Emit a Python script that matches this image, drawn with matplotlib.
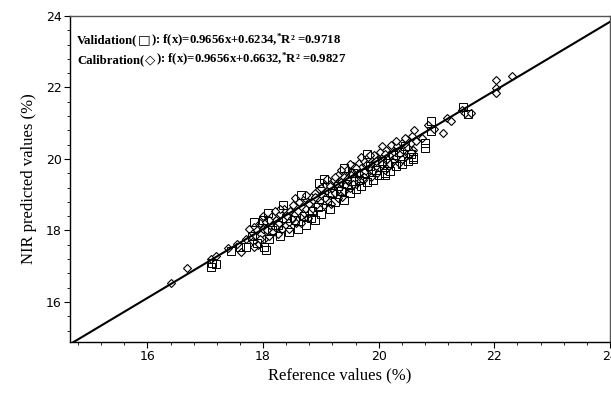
import matplotlib
matplotlib.use("Agg")
import matplotlib.pyplot as plt
from matplotlib.ticker import MultipleLocator

# Calibration samples (diamonds): reference, predicted
cal_x = [16.40, 16.69, 17.10, 17.18, 17.40, 17.55, 17.62, 17.70,
         17.80, 17.82, 17.85, 17.88, 17.90, 17.92, 17.95, 17.97, 18.00, 18.02, 18.05, 18.07,
         18.10, 18.12, 18.15, 18.17, 18.20, 18.22, 18.25, 18.27, 18.30, 18.32, 18.35, 18.37,
         18.40, 18.42, 18.45, 18.47, 18.50, 18.52, 18.55, 18.57, 18.60, 18.62, 18.65, 18.67,
         18.70, 18.72, 18.75, 18.77, 18.80, 18.82, 18.85, 18.87, 18.90, 18.92, 18.95, 18.97,
         19.00, 19.02, 19.05, 19.07, 19.10, 19.12, 19.15, 19.17, 19.20, 19.22, 19.25, 19.27,
         19.30, 19.32, 19.35, 19.37, 19.40, 19.42, 19.45, 19.47, 19.50, 19.52, 19.55, 19.57,
         19.60, 19.62, 19.65, 19.67, 19.70, 19.72, 19.75, 19.77, 19.80, 19.82, 19.85, 19.87,
         19.90, 19.92, 19.95, 19.97, 20.00, 20.02, 20.05, 20.07, 20.10, 20.12, 20.15, 20.17,
         20.20, 20.22, 20.25, 20.27, 20.30, 20.32, 20.35, 20.37, 20.40, 20.42, 20.45, 20.47,
         20.50, 20.52, 20.55, 20.57, 20.60, 20.61, 20.65,
         20.75, 20.85, 20.95, 21.11, 21.18, 21.25, 21.44, 21.50, 21.60, 22.02, 22.02, 22.02, 22.31,
         18.10, 18.30, 18.55, 18.65, 18.80, 18.90, 19.00, 19.05, 19.15, 19.25, 19.30, 19.40,
         19.45, 19.55, 19.60, 19.65, 19.75, 19.85, 19.95, 20.05, 20.20, 20.30, 20.45, 20.55,
         18.00, 17.95, 18.20, 18.45, 18.75, 19.10, 19.35, 19.50, 19.70, 19.90, 20.10, 20.40,
         17.75, 17.85]
cal_y = [16.52, 16.94, 17.20, 17.28, 17.50, 17.62, 17.40, 17.75,
         17.95, 17.70, 18.10, 17.85, 18.00, 17.60, 18.20, 17.90, 18.05, 17.75, 18.25, 18.00,
         17.85, 18.15, 18.40, 17.95, 18.10, 18.30, 17.90, 18.20, 18.45, 18.05, 18.30, 18.60,
         18.15, 18.40, 18.25, 18.55, 18.35, 18.70, 18.45, 18.20, 18.55, 18.80, 18.40, 18.65,
         18.50, 18.90, 18.60, 18.35, 18.75, 18.95, 18.60, 18.85, 19.05, 18.70, 18.90, 19.15,
         18.80, 19.00, 19.25, 18.90, 19.10, 19.35, 19.00, 18.75, 19.20, 19.40, 19.05, 19.30,
         19.55, 19.15, 19.35, 18.95, 19.50, 19.25, 19.70, 19.40, 19.20, 19.55, 19.80, 19.45,
         19.30, 19.65, 19.90, 19.55, 19.75, 19.40, 19.95, 19.65, 19.85, 20.05, 19.70, 19.50,
         19.90, 20.10, 19.80, 19.60, 20.00, 20.20, 19.85, 20.05, 19.70, 20.25, 20.00, 19.80,
         20.15, 20.40, 19.95, 20.20, 20.05, 20.35, 19.90, 20.15, 20.45, 20.25, 20.05, 20.55,
         20.30, 20.10, 20.45, 20.65, 20.25, 20.80, 20.50,
         20.60, 20.95, 20.85, 20.74, 21.16, 21.05, 21.36, 21.30, 21.28, 22.20, 21.98, 21.84, 22.31,
         18.30, 18.60, 18.90, 18.20, 18.50, 18.95, 19.20, 18.70, 19.25, 19.50, 18.90, 19.10,
         19.45, 19.30, 19.75, 19.60, 19.50, 20.10, 19.95, 20.35, 19.85, 20.50, 20.60, 20.20,
         18.40, 17.75, 18.55, 18.05, 19.00, 19.45, 19.70, 19.85, 20.05, 19.65, 20.15, 20.00,
         18.05, 17.55]

# Validation samples (squares): reference, predicted
val_x = [17.10, 17.12, 17.18, 17.45, 17.60, 17.80, 17.85, 17.90, 18.00, 18.02, 18.10, 18.15,
         18.25, 18.30, 18.40, 18.45, 18.55, 18.60, 18.70, 18.75, 18.85, 18.90, 18.95, 19.00,
         19.05, 19.10, 19.15, 19.20, 19.25, 19.30, 19.35, 19.40, 19.45, 19.50, 19.55, 19.60,
         19.65, 19.70, 19.75, 19.80, 19.85, 19.90, 19.95, 20.00, 20.05, 20.10, 20.15, 20.20,
         20.25, 20.30, 20.35, 20.40, 20.45, 20.50, 20.55, 20.60, 20.60, 20.80, 20.80, 20.90,
         20.90, 21.45, 21.55, 18.35, 18.65, 19.40, 19.80, 17.70, 18.05, 18.09, 18.97, 18.83,
         20.10]
val_y = [16.98, 17.10, 17.05, 17.42, 17.55, 17.85, 18.25, 17.65, 18.30, 17.55, 17.75, 18.00,
         18.15, 17.85, 18.35, 17.95, 18.30, 18.05, 18.40, 18.15, 18.55, 18.30, 18.65, 18.45,
         19.45, 18.85, 18.60, 19.05, 18.80, 19.25, 19.10, 18.85, 19.30, 19.05, 19.60, 19.15,
         19.40, 19.25, 19.60, 19.35, 19.80, 19.40, 19.70, 19.55, 19.95, 19.60, 19.90, 19.65,
         20.10, 19.80, 20.20, 19.85, 20.35, 19.95, 20.15, 20.00, 20.05, 20.46, 20.32, 21.05,
         20.77, 21.45, 21.25, 18.70, 19.00, 19.75, 20.15, 17.55, 17.45, 18.50, 19.34, 18.36,
         19.54]

slope, intercept = 0.9656, 0.6632
xlim = (14.66, 24.0)
ylim = (14.88, 24.0)

plt.rcParams['font.family'] = ['DejaVu Sans']
plt.rcParams['mathtext.fontset'] = 'custom'
plt.rcParams['mathtext.rm'] = 'Liberation Serif:bold'
plt.rcParams['mathtext.it'] = 'Liberation Serif:bold'
plt.rcParams['mathtext.bf'] = 'Liberation Serif:bold'

fig = plt.figure(figsize=(6.11, 3.93), dpi=100)
ax = fig.add_axes([70/611, 1-342/393, 540/611, 326/393])

ax.plot(cal_x, cal_y, linestyle='none', marker='D', markersize=4.4,
        markerfacecolor='white', markeredgecolor='black', markeredgewidth=0.8)
ax.plot(val_x, val_y, linestyle='none', marker='s', markersize=5.3,
        markerfacecolor='none', markeredgecolor='black', markeredgewidth=0.7)
ax.plot(list(xlim), [slope*xlim[0]+intercept, slope*xlim[1]+intercept],
        color='black', linewidth=1.5)

ax.set_xlim(*xlim)
ax.set_ylim(*ylim)
ax.xaxis.set_major_locator(MultipleLocator(2))
ax.yaxis.set_major_locator(MultipleLocator(2))
ax.xaxis.set_minor_locator(MultipleLocator(0.4))
ax.yaxis.set_minor_locator(MultipleLocator(0.4))
ax.tick_params(which='major', direction='out', length=4, width=0.8, labelsize=9, pad=2)
ax.tick_params(which='minor', direction='out', length=2, width=0.6)
for lbl in ax.get_xticklabels() + ax.get_yticklabels():
    lbl.set_family('DejaVu Sans')
for s in ['left', 'bottom']:
    ax.spines[s].set_linewidth(1.0)
for s in ['top', 'right']:
    ax.spines[s].set_linewidth(1.0)
    ax.spines[s].set_color('#555555')

serif = ['Liberation Serif', 'DejaVu Serif']
ax.set_xlabel('Reference values (%)', family=serif, fontsize=12, labelpad=3)
ax.set_ylabel('NIR predicted values (%)', family=serif, fontsize=12, labelpad=6)

fs = 9.2
fig.canvas.draw()
renderer = fig.canvas.get_renderer()
inv = ax.transAxes.inverted()

def text_line(y, parts):
    x = 0.013
    for s, fam, fw, size, gap in parts:
        t = ax.text(x, y, s, transform=ax.transAxes, family=fam, fontweight=fw,
                    fontsize=size, va='baseline', ha='left')
        bb = t.get_window_extent(renderer)
        x = inv.transform((bb.x1 + gap, bb.y0))[0]

text_line(0.915, [('Validation(', serif, 'bold', fs, 0.5),
                  ('\u25A1', 'DejaVu Sans', 'normal', fs + 0.5, 0.5),
                  ('): f(x)=0.9656x+0.6234,$^{*}$R\u00B2 =0.9718', serif, 'bold', fs, 0)])
text_line(0.855, [('Calibration(', serif, 'bold', fs, 0.5),
                  ('\u25C7', 'DejaVu Sans', 'normal', fs + 0.5, 0.5),
                  ('): f(x)=0.9656x+0.6632,$^{*}$R\u00B2 =0.9827', serif, 'bold', fs, 0)])

fig.savefig('out.png', dpi=100)
